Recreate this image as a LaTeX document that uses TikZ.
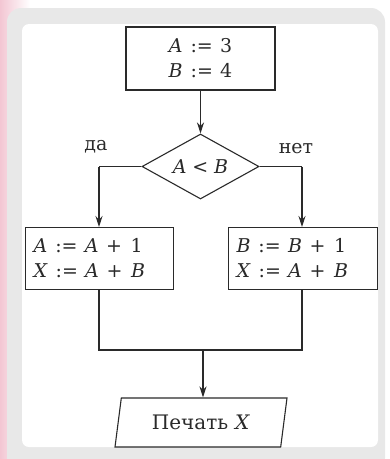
\documentclass[tikz,border=0pt]{standalone}
\usepackage{fontspec}
\setmainfont{DejaVu Serif}
\usetikzlibrary{shapes.geometric,arrows.meta}
\definecolor{frame}{HTML}{E8E8E8}
\definecolor{ink}{HTML}{2A2A2A}
\definecolor{pinkbg}{HTML}{F3C6D3}
\newcommand\vr[1]{\textit{#1}}
\newcommand\asg{\hspace{0.42em}:=\hspace{0.38em}}
\newcommand\pls{\hspace{0.4em}+\hspace{0.45em}}
\tikzset{
  blk/.style={draw=ink, line width=1.1pt, fill=white, inner sep=0pt, text=ink, font=\fontsize{19}{25}\selectfont},
  lbl/.style={text=ink, font=\fontsize{19}{22}\selectfont},
  conn/.style={draw=ink, line width=1.1pt},
  arr/.style={conn, -{Stealth[length=11pt,width=7pt]}},
}
\begin{document}
\begin{tikzpicture}[x=1pt,y=-1pt]
\useasboundingbox (0,0) rectangle (390,459);
% background
\shade[left color=pinkbg, right color=white] (0,0) rectangle (30,459);
\fill[white] (30,0) rectangle (390,459);
\fill[frame, rounded corners=14pt] (7,8) rectangle (385,472);
\fill[white, rounded corners=7pt] (22,24) rectangle (378,447);
% nodes
\node[blk, minimum width=149pt, minimum height=63pt, align=center] (init) at (200.5,58.5)
  {\vr{A}\asg 3\\ \vr{B}\asg 4};
\node[blk, diamond, aspect=1.8, minimum width=117pt, minimum height=65pt] (cond) at (200.5,166.5)
  {\vr{A}\hspace{0.3em}<\hspace{0.3em}\vr{B}};
\node[blk, minimum width=148pt, minimum height=62pt, align=left, anchor=north west, text width=132pt, inner xsep=8pt] (left) at (25,227)
  {\vr{A}\asg\vr{A}\pls 1\\ \vr{X}\asg\vr{A}\pls\vr{B}};
\node[blk, minimum width=149pt, minimum height=62pt, align=left, anchor=north west, text width=133pt, inner xsep=8pt] (right) at (228,227)
  {\vr{B}\asg\vr{B}\pls 1\\ \vr{X}\asg\vr{A}\pls\vr{B}};
\node[blk, trapezium, trapezium left angle=67, trapezium right angle=113, minimum width=172pt, minimum height=49pt, trapezium stretches body, font=\fontsize{20}{22}\selectfont] (out) at (201,422.5)
  {Печать\hspace{0.35em}\vr{X}};
\coordinate (lc) at (99,166.5);
\coordinate (rc) at (302,166.5);
\coordinate (lb) at (99,350);
\coordinate (rb) at (302,350);
\coordinate (mb) at (203,350);
% labels
\node[lbl] (da) at (96,147) {да};
\node[lbl] (net) at (296,149) {нет};
% connectors
\draw[arr] (init.south) -- (cond.north);
\draw[conn] (cond.west) -- (lc);
\draw[arr] (lc) -- (lc |- left.north);
\draw[conn] (cond.east) -- (rc);
\draw[arr] (rc) -- (rc |- right.north);
\draw[conn] (lb |- left.south) -- (lb) -- (rb) -- (rb |- right.south);
\draw[arr] (mb) -- (mb |- out.north);
\end{tikzpicture}
\end{document}
